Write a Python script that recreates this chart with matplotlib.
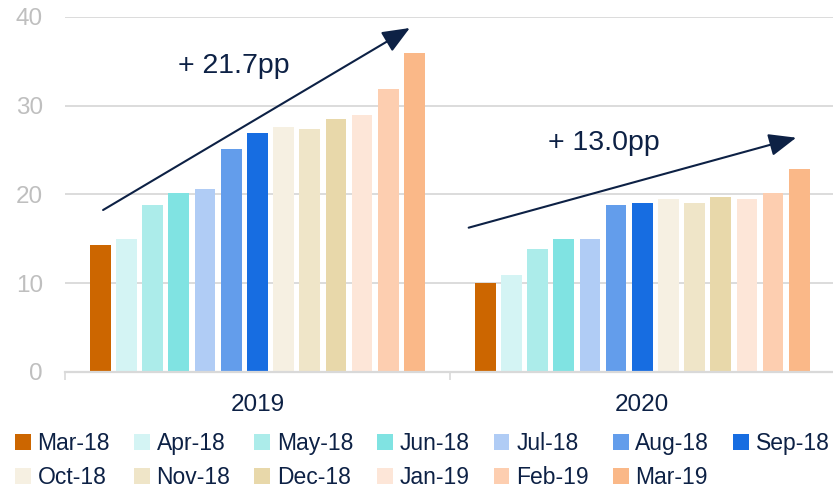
import matplotlib.pyplot as plt
from matplotlib.patches import Patch

plt.rcParams['font.family'] = ['Liberation Sans', 'DejaVu Sans']

# data
years = ["2019", "2020"]
months = ["Mar-18", "Apr-18", "May-18", "Jun-18", "Jul-18", "Aug-18", "Sep-18",
          "Oct-18", "Nov-18", "Dec-18", "Jan-19", "Feb-19", "Mar-19"]
values_2019 = [14.3, 15.0, 18.8, 20.2, 20.6, 25.1, 26.9, 27.6, 27.4, 28.5, 29.0, 31.9, 35.9]
values_2020 = [10.0, 10.9, 13.9, 15.0, 15.0, 18.8, 19.0, 19.5, 19.0, 19.7, 19.5, 20.2, 22.9]
colors = ["#CC6600", "#D4F4F4", "#ACECEA", "#80E3E2", "#B0CCF5", "#639DEB", "#176DE1",
          "#F6F0E2", "#EFE5C8", "#E8D8AA", "#FDE6D8", "#FDCEB0", "#FAB888"]
growth_labels = ["+ 21.7pp", "+ 13.0pp"]

navy = "#0D2145"
grid_c = "#D9D9D9"

fig = plt.figure(figsize=(8.33, 4.91), dpi=100)
ax = fig.add_axes([0.078, 0.2424, 0.924, 0.723])

group_span = 0.884
slot = group_span / len(months)
bar_w = 0.054
series = [values_2019, values_2020]
for g, vals in enumerate(series):
    for i, v in enumerate(vals):
        x = g - group_span / 2 + (i + 0.5) * slot
        ax.bar(x, v, width=bar_w, color=colors[i], zorder=3)

ax.set_xlim(-0.5, 1.5)
ax.set_ylim(0, 40)
ax.set_yticks([0, 10, 20, 30, 40])
ax.set_xticks([0, 1])
ax.set_xticklabels(years)
ax.set_xticks([-0.5, 0.5, 1.5], minor=True)
ax.tick_params(axis='x', which='major', length=0, pad=16, labelsize=17.5, labelcolor=navy)
ax.tick_params(axis='x', which='minor', length=6, width=1.2, color=grid_c)
ax.tick_params(axis='y', length=0, pad=16, labelsize=17.5, labelcolor="#BFBFBF")
ax.yaxis.grid(True, color=grid_c, linewidth=1.3, zorder=0)
for s in ['top', 'right', 'left']:
    ax.spines[s].set_visible(False)
ax.spines['bottom'].set_color(grid_c)
ax.spines['bottom'].set_linewidth(1.6)
ax.spines['bottom'].set_zorder(4)

# growth arrows
arrows = [((-0.401, 18.25), (0.396, 38.76)), ((0.549, 16.26), (1.400, 26.4))]
text_pos = [(-0.062, 33.7), (0.900, 25.0)]
for (start, end), lab, tp in zip(arrows, growth_labels, text_pos):
    ax.annotate("", xy=end, xytext=start,
                arrowprops=dict(arrowstyle="-|>,head_length=0.8,head_width=0.33",
                                color=navy, lw=1.5, mutation_scale=21,
                                shrinkA=0, shrinkB=0), zorder=5)
    ax.text(tp[0], tp[1], lab, fontsize=20.5, color=navy, ha='center', va='baseline', zorder=5)

# legend filled row by row: reorder for matplotlib's column-first layout
ncol = 7
order = []
for c in range(ncol):
    for r in range(2):
        k = r * ncol + c
        if k < len(months):
            order.append(k)
handles = [Patch(facecolor=colors[k], edgecolor='none') for k in order]
labels = [months[k] for k in order]
fig.legend(handles, labels, ncol=ncol, loc='upper left', bbox_to_anchor=(0.018, 0.12),
           frameon=False, fontsize=16.5, labelcolor=navy, handlelength=0.68,
           handleheight=0.68, handletextpad=0.3, columnspacing=1.05,
           labelspacing=0.48, borderpad=0, borderaxespad=0)

fig.savefig("out.png", dpi=100)
